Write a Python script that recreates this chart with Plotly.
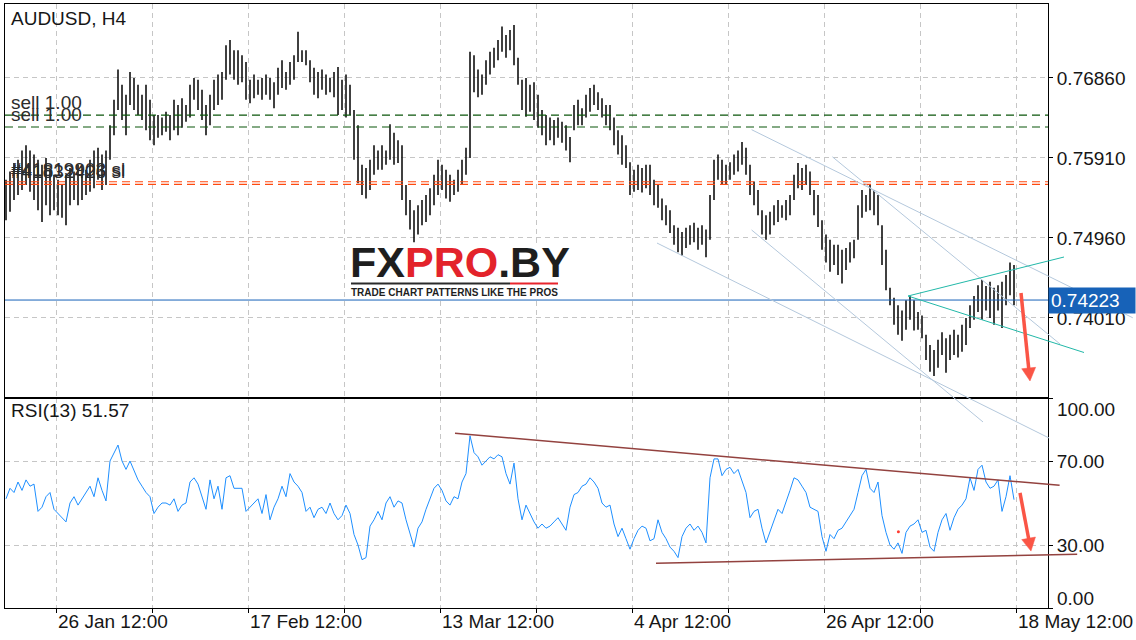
import math
import plotly.graph_objects as go

# ---------------- data ----------------
SYMBOL_TITLE = "AUDUSD, H4"
RSI_TITLE = "RSI(13) 51.57"

# price bars (one bar per 8 hours), highs and lows
high = [
    0.7565, 0.7575, 0.7585, 0.7589, 0.7600, 0.7606, 0.7600, 0.7595, 0.7589, 0.7583,
    0.7591, 0.7577, 0.7571, 0.7565, 0.7559, 0.7571, 0.7579, 0.7575, 0.7583, 0.7571,
    0.7577, 0.7589, 0.7600, 0.7603, 0.7595, 0.7600, 0.7630, 0.7660, 0.7696, 0.7678,
    0.7666, 0.7693, 0.7686, 0.7678, 0.7666, 0.7678, 0.7660, 0.7642, 0.7642, 0.7639,
    0.7646, 0.7642, 0.7660, 0.7654, 0.7662, 0.7654, 0.7678, 0.7686, 0.7684, 0.7672,
    0.7654, 0.7666, 0.7684, 0.7690, 0.7693, 0.7725, 0.7731, 0.7719, 0.7719, 0.7713,
    0.7705, 0.7684, 0.7690, 0.7684, 0.7686, 0.7690, 0.7686, 0.7681, 0.7698, 0.7707,
    0.7693, 0.7705, 0.7713, 0.7741, 0.7719, 0.7719, 0.7707, 0.7698, 0.7693, 0.7696,
    0.7690, 0.7686, 0.7693, 0.7699, 0.7684, 0.7690, 0.7678, 0.7648, 0.7630, 0.7583,
    0.7579, 0.7589, 0.7606, 0.7600, 0.7606, 0.7600, 0.7631, 0.7621, 0.7612, 0.7606,
    0.7559, 0.7541, 0.7529, 0.7535, 0.7541, 0.7547, 0.7555, 0.7571, 0.7589, 0.7583,
    0.7577, 0.7571, 0.7565, 0.7577, 0.7589, 0.7603, 0.7717, 0.7713, 0.7696, 0.7690,
    0.7707, 0.7717, 0.7722, 0.7731, 0.7747, 0.7737, 0.7743, 0.7749, 0.7710, 0.7684,
    0.7686, 0.7678, 0.7681, 0.7666, 0.7648, 0.7642, 0.7639, 0.7636, 0.7639, 0.7634,
    0.7630, 0.7616, 0.7654, 0.7660, 0.7650, 0.7666, 0.7674, 0.7678, 0.7669, 0.7662,
    0.7654, 0.7654, 0.7639, 0.7624, 0.7618, 0.7606, 0.7586, 0.7577, 0.7583, 0.7579,
    0.7583, 0.7583, 0.7565, 0.7559, 0.7543, 0.7535, 0.7529, 0.7511, 0.7508, 0.7503,
    0.7508, 0.7511, 0.7514, 0.7508, 0.7511, 0.7506, 0.7547, 0.7589, 0.7595, 0.7589,
    0.7583, 0.7586, 0.7595, 0.7600, 0.7610, 0.7603, 0.7583, 0.7563, 0.7553, 0.7529,
    0.7523, 0.7527, 0.7535, 0.7541, 0.7535, 0.7541, 0.7547, 0.7571, 0.7585, 0.7579,
    0.7583, 0.7575, 0.7553, 0.7547, 0.7517, 0.7500, 0.7494, 0.7488, 0.7488, 0.7482,
    0.7484, 0.7491, 0.7494, 0.7535, 0.7553, 0.7547, 0.7559, 0.7553, 0.7547, 0.7511,
    0.7482, 0.7437, 0.7425, 0.7416, 0.7410, 0.7422, 0.7427, 0.7422, 0.7408, 0.7404,
    0.7381, 0.7369, 0.7363, 0.7375, 0.7384, 0.7377, 0.7381, 0.7387, 0.7381, 0.7393,
    0.7401, 0.7416, 0.7427, 0.7440, 0.7446, 0.7439, 0.7444, 0.7437, 0.7440, 0.7444,
    0.7452, 0.7467, 0.7464,
]
low = [
    0.7517, 0.7527, 0.7541, 0.7547, 0.7553, 0.7559, 0.7551, 0.7541, 0.7529, 0.7515,
    0.7535, 0.7523, 0.7529, 0.7523, 0.7520, 0.7511, 0.7535, 0.7541, 0.7535, 0.7541,
    0.7547, 0.7551, 0.7555, 0.7565, 0.7553, 0.7559, 0.7589, 0.7618, 0.7648, 0.7636,
    0.7618, 0.7654, 0.7648, 0.7642, 0.7636, 0.7624, 0.7612, 0.7606, 0.7615, 0.7618,
    0.7622, 0.7612, 0.7624, 0.7618, 0.7627, 0.7634, 0.7639, 0.7660, 0.7648, 0.7636,
    0.7618, 0.7630, 0.7648, 0.7654, 0.7660, 0.7684, 0.7690, 0.7684, 0.7678, 0.7681,
    0.7660, 0.7656, 0.7662, 0.7666, 0.7660, 0.7666, 0.7660, 0.7650, 0.7666, 0.7674,
    0.7672, 0.7678, 0.7684, 0.7705, 0.7705, 0.7701, 0.7681, 0.7666, 0.7662, 0.7672,
    0.7666, 0.7669, 0.7663, 0.7642, 0.7648, 0.7639, 0.7642, 0.7589, 0.7561, 0.7547,
    0.7543, 0.7553, 0.7571, 0.7577, 0.7577, 0.7583, 0.7589, 0.7583, 0.7585, 0.7541,
    0.7523, 0.7506, 0.7491, 0.7500, 0.7511, 0.7515, 0.7523, 0.7535, 0.7547, 0.7553,
    0.7543, 0.7539, 0.7547, 0.7551, 0.7559, 0.7571, 0.7591, 0.7669, 0.7663, 0.7666,
    0.7678, 0.7690, 0.7698, 0.7707, 0.7717, 0.7710, 0.7719, 0.7701, 0.7678, 0.7648,
    0.7640, 0.7646, 0.7636, 0.7627, 0.7618, 0.7606, 0.7612, 0.7606, 0.7615, 0.7609,
    0.7600, 0.7586, 0.7624, 0.7630, 0.7630, 0.7639, 0.7646, 0.7654, 0.7648, 0.7639,
    0.7630, 0.7624, 0.7606, 0.7595, 0.7583, 0.7579, 0.7547, 0.7551, 0.7553, 0.7550,
    0.7555, 0.7547, 0.7535, 0.7532, 0.7517, 0.7511, 0.7502, 0.7488, 0.7479, 0.7475,
    0.7484, 0.7488, 0.7491, 0.7482, 0.7488, 0.7473, 0.7494, 0.7541, 0.7565, 0.7559,
    0.7559, 0.7565, 0.7571, 0.7575, 0.7583, 0.7571, 0.7547, 0.7535, 0.7523, 0.7500,
    0.7494, 0.7500, 0.7511, 0.7515, 0.7520, 0.7517, 0.7523, 0.7541, 0.7555, 0.7553,
    0.7559, 0.7547, 0.7523, 0.7509, 0.7482, 0.7467, 0.7456, 0.7464, 0.7452, 0.7442,
    0.7458, 0.7467, 0.7472, 0.7494, 0.7520, 0.7527, 0.7529, 0.7523, 0.7511, 0.7464,
    0.7434, 0.7416, 0.7393, 0.7381, 0.7374, 0.7387, 0.7399, 0.7386, 0.7387, 0.7377,
    0.7351, 0.7337, 0.7332, 0.7342, 0.7357, 0.7336, 0.7351, 0.7357, 0.7354, 0.7361,
    0.7369, 0.7389, 0.7399, 0.7408, 0.7399, 0.7410, 0.7401, 0.7393, 0.7410, 0.7389,
    0.7416, 0.7428, 0.7416,
]
rsi = [
    52, 57, 55, 60, 56, 61, 58, 59, 46, 48,
    53, 55, 47, 45, 43, 41, 50, 53, 49, 52,
    55, 58, 53, 62, 56, 51, 70, 74, 77.6, 70,
    66, 70, 65, 61, 58, 55, 53, 45, 48, 50,
    50, 49, 52, 46, 49, 50, 60, 62, 59, 53,
    47, 61, 52, 58, 47, 62, 63, 57, 57, 57,
    46, 48, 50, 52, 45, 54, 42, 48, 52, 58,
    53, 64, 60, 58, 55, 46, 48, 43, 47, 48,
    45, 50, 45, 42, 44, 49, 45, 35, 30, 23,
    24, 39, 42, 46, 42, 50, 53, 48, 51, 50,
    42, 35, 29, 38, 41, 47, 52, 57, 59, 56,
    51, 49, 53, 52, 60, 64, 82, 74, 72, 68,
    70, 72, 71, 73, 72, 64, 59, 69, 52, 42,
    49, 45, 41, 38, 40, 38, 39, 41, 43, 40,
    37, 48, 54, 55, 58, 59, 62, 60, 57, 50,
    48, 49, 40, 34, 38, 33, 28, 33, 37, 39,
    38, 32, 33, 42, 36, 33, 29, 27, 24, 34,
    38, 40, 37, 39, 36, 31, 62, 71, 71, 63,
    66, 67, 64, 66, 60, 55, 43, 46, 47, 38,
    31, 36, 42, 47, 45, 50, 56, 62, 61, 58,
    55, 48, 47, 46, 34, 27, 35, 33, 37, 38,
    41, 44, 47, 55, 63, 66, 57, 55, 60, 44,
    36, 30, 28, 31, 26, 36, 39, 40, 42, 36,
    37, 29, 27, 36, 42, 45, 37, 43, 47, 49,
    52, 62, 56, 66, 68, 60, 57, 58, 61, 46,
    53, 63, 51.57,
]

LAST_PRICE = 0.74223
PRICE_TICKS = [0.76860, 0.75910, 0.74960, 0.74010]
RSI_TICKS = [0, 30, 70, 100]
RSI_TICK_TEXT = ["", "30.00", "70.00", ""]
GRID_BARS = [12.5 + 24 * j for j in range(11)]
DATE_LABELS = ["26 Jan 12:00", "17 Feb 12:00", "13 Mar 12:00",
               "4 Apr 12:00", "26 Apr 12:00", "18 May 12:00"]

SELL_LEVELS = [0.76420, 0.76278]
SELL_TEXT = ["sell 1.00", "sell 1.00"]
SL_LEVELS = [0.75628, 0.75597]
SL_TEXT = ["#41819903 sl", "#41832426 sl"]

# drawn objects (bar index, value)
CHANNEL_LINES = [
    (186.4, 0.76246, 281.7, 0.74012),
    (206.6, 0.75924, 263.5, 0.73701),
    (186.4, 0.75055, 244.25, 0.72775),
    (162.75, 0.74900, 260.75, 0.72585),
]
WEDGE_LINES = [
    (225.5, 0.74271, 264.5, 0.74734),
    (225.5, 0.74271, 269.5, 0.73600),
]
RSI_LINES = [
    (112.25, 83.2, 263.4, 58.4),
    (162.5, 21.3, 267.8, 25.6),
]
PRICE_ARROW = (253.75, 0.74307, 256.0, 0.73262)
RSI_ARROW = (253.5, 54.8, 256.25, 27.1)
RSI_DOT = (223.1, 36.3)

# ---------------- layout geometry ----------------
W, H = 1136, 640
ML, MR, MT, MB = 5, 88, 4, 32
PW, PH = W - ML - MR, H - MT - MB
XR = [-0.25, 260.5]
YR_MAIN = [0.7305975, 0.777385]
YR_RSI = [0, 100]
RSI_FRAC = 210 / PH
DOM_RSI = [0, RSI_FRAC]
DOM_MAIN = [RSI_FRAC, 1]

FONT = "Liberation Sans, Arial, sans-serif"
GRID = "#c6c6c6"
TXT = "#161616"
BLUE = "#1762b8"
STEEL = "#b4c8dc"
TEAL = "#22b8a8"
MAROON = "#93423f"
ARROW_RED = "#fa5546"


def bx(b):
    return (b - XR[0]) / (XR[1] - XR[0])


def py_main(p):
    return DOM_MAIN[0] + (p - YR_MAIN[0]) / (YR_MAIN[1] - YR_MAIN[0]) * (DOM_MAIN[1] - DOM_MAIN[0])


def py_rsi(v):
    return DOM_RSI[0] + (v - YR_RSI[0]) / (YR_RSI[1] - YR_RSI[0]) * (DOM_RSI[1] - DOM_RSI[0])


def pxX(X):
    return (X - ML) / PW


def pxY(Y):
    return (H - MB - Y) / PH


def to_px(xp, yp):
    return ML + xp * PW, H - MB - yp * PH


fig = go.Figure()

# OHLC-style bars as vertical segments
bx_list, by_list = [], []
for i, (h, l) in enumerate(zip(high, low)):
    bx_list += [i, i, None]
    by_list += [l, h, None]
fig.add_trace(go.Scatter(x=bx_list, y=by_list, mode="lines",
                         line=dict(color="#000000", width=1.5),
                         xaxis="x2", yaxis="y", hoverinfo="skip", showlegend=False))

# RSI line
fig.add_trace(go.Scatter(x=list(range(len(rsi))), y=rsi, mode="lines",
                         line=dict(color="#1e8fff", width=1),
                         xaxis="x", yaxis="y2", hoverinfo="skip", showlegend=False))
fig.add_trace(go.Scatter(x=[RSI_DOT[0]], y=[RSI_DOT[1]], mode="markers",
                         marker=dict(color="#ff3b30", size=3),
                         xaxis="x", yaxis="y2", hoverinfo="skip", showlegend=False))

shapes = []
# order / level lines
shapes.append(dict(type="line", xref="paper", yref="y", x0=0, x1=1, y0=LAST_PRICE, y1=LAST_PRICE,
                   line=dict(color=BLUE, width=1)))
for lv in SELL_LEVELS:
    shapes.append(dict(type="line", xref="paper", yref="y", x0=0, x1=1, y0=lv, y1=lv,
                       line=dict(color="#0b560b", width=1.2, dash="8px,5px")))
for lv in SL_LEVELS:
    shapes.append(dict(type="line", xref="paper", yref="y", x0=0, x1=1, y0=lv, y1=lv,
                       line=dict(color="#ff4a10", width=1.1, dash="8px,5px")))

# trend lines (paper refs so they may run past the panel like the original)
for b0, p0, b1, p1 in CHANNEL_LINES:
    shapes.append(dict(type="line", xref="paper", yref="paper", layer="above",
                       x0=bx(b0), y0=py_main(p0), x1=bx(b1), y1=py_main(p1),
                       line=dict(color=STEEL, width=1)))
for b0, p0, b1, p1 in WEDGE_LINES:
    shapes.append(dict(type="line", xref="paper", yref="paper", layer="above",
                       x0=bx(b0), y0=py_main(p0), x1=bx(b1), y1=py_main(p1),
                       line=dict(color=TEAL, width=1)))
for b0, v0, b1, v1 in RSI_LINES:
    shapes.append(dict(type="line", xref="paper", yref="paper", layer="above",
                       x0=bx(b0), y0=py_rsi(v0), x1=bx(b1), y1=py_rsi(v1),
                       line=dict(color=MAROON, width=1.5)))


def arrow_shapes(tail, tip, color):
    X0, Y0 = to_px(*tail)
    X1, Y1 = to_px(*tip)
    dx, dy = X1 - X0, Y1 - Y0
    L = math.hypot(dx, dy)
    ux, uy = dx / L, dy / L
    head_len, half = 13, 7
    bX, bY = X1 - ux * head_len, Y1 - uy * head_len
    nx, ny = -uy, ux
    pts = [(X1, Y1), (bX + nx * half, bY + ny * half), (bX - nx * half, bY - ny * half)]
    pp = [(pxX(a), pxY(b)) for a, b in pts]
    path = "M {:.5f} {:.5f} L {:.5f} {:.5f} L {:.5f} {:.5f} Z".format(
        pp[0][0], pp[0][1], pp[1][0], pp[1][1], pp[2][0], pp[2][1])
    return [
        dict(type="line", xref="paper", yref="paper", layer="above",
             x0=pxX(X0), y0=pxY(Y0), x1=pxX(bX + ux * 2), y1=pxY(bY + uy * 2),
             line=dict(color=color, width=3.5)),
        dict(type="path", xref="paper", yref="paper", layer="above", path=path,
             fillcolor=color, line=dict(color=color, width=0.5)),
    ]


shapes += arrow_shapes((bx(PRICE_ARROW[0]), py_main(PRICE_ARROW[1])),
                       (bx(PRICE_ARROW[2]), py_main(PRICE_ARROW[3])), ARROW_RED)
shapes += arrow_shapes((bx(RSI_ARROW[0]), py_rsi(RSI_ARROW[1])),
                       (bx(RSI_ARROW[2]), py_rsi(RSI_ARROW[3])), ARROW_RED)

# logo background + underline
shapes.append(dict(type="rect", xref="paper", yref="paper", layer="above",
                   x0=pxX(348), x1=pxX(571), y0=pxY(298), y1=pxY(245),
                   fillcolor="white", line=dict(width=0)))
shapes.append(dict(type="line", xref="paper", yref="paper", layer="above",
                   x0=pxX(351), x1=pxX(510), y0=pxY(283.5), y1=pxY(283.5),
                   line=dict(color="#2a2a2a", width=2)))
shapes.append(dict(type="line", xref="paper", yref="paper", layer="above",
                   x0=pxX(510), x1=pxX(558), y0=pxY(283.5), y1=pxY(283.5),
                   line=dict(color="#e8242c", width=2)))

ann = []
ann.append(dict(text=SYMBOL_TITLE, xref="paper", yref="paper", x=pxX(9), y=pxY(19),
                xanchor="left", yanchor="middle", showarrow=False,
                font=dict(size=19, color=TXT)))
ann.append(dict(text=RSI_TITLE, xref="paper", yref="paper", x=pxX(9), y=pxY(410),
                xanchor="left", yanchor="middle", showarrow=False,
                font=dict(size=19, color=TXT)))
for lv, t in zip(SELL_LEVELS, SELL_TEXT):
    ann.append(dict(text=t, xref="paper", yref="y", x=pxX(9), y=lv, xanchor="left",
                    yanchor="bottom", showarrow=False, font=dict(size=19, color="#2c2c2c")))
for lv, t in zip(SL_LEVELS, SL_TEXT):
    ann.append(dict(text=t, xref="paper", yref="y", x=pxX(9), y=lv, xanchor="left",
                    yanchor="bottom", showarrow=False, font=dict(size=19, color="#2c2c2c")))
ann.append(dict(text=f"{LAST_PRICE:.5f}", xref="paper", yref="y", x=1.0, y=LAST_PRICE,
                xanchor="left", yanchor="middle", showarrow=False, align="left",
                bgcolor=BLUE, borderpad=2, width=82, font=dict(size=19, color="white")))
ann.append(dict(text="100.00", xref="paper", yref="paper", x=pxX(1055), y=pxY(409),
                xanchor="left", yanchor="middle", showarrow=False, font=dict(size=19, color=TXT)))
ann.append(dict(text="0.00", xref="paper", yref="paper", x=pxX(1055), y=pxY(598),
                xanchor="left", yanchor="middle", showarrow=False, font=dict(size=19, color=TXT)))
for j, lab in enumerate(DATE_LABELS):
    ann.append(dict(text=lab, xref="x", yref="paper", x=GRID_BARS[2 * j], y=0,
                    xanchor="left", yanchor="top", yshift=-1, showarrow=False,
                    font=dict(size=19, color=TXT)))
# logo text
ann.append(dict(text="<b>FX<span style='color:#e3232b'>PRO</span>.BY</b>",
                xref="paper", yref="paper", x=pxX(460), y=pxY(262),
                xanchor="center", yanchor="middle", showarrow=False,
                font=dict(size=43, color="#1e1e1e", family="Liberation Sans, Arial")))
ann.append(dict(text="<b>TRADE CHART PATTERNS LIKE THE PROS</b>",
                xref="paper", yref="paper", x=pxX(454), y=pxY(292.5),
                xanchor="center", yanchor="middle", showarrow=False,
                font=dict(size=10, color="#1e1e1e", family="Liberation Sans, Arial")))

common_axis = dict(showline=True, linecolor="#000000", linewidth=1, mirror=True,
                   zeroline=False, gridcolor=GRID, griddash="5px,4px", gridwidth=1)

fig.update_layout(
    width=W, height=H,
    margin=dict(l=ML, r=MR, t=MT, b=MB, pad=0),
    paper_bgcolor="white", plot_bgcolor="white",
    font=dict(family=FONT, size=19, color=TXT),
    showlegend=False, hovermode=False,
    xaxis=dict(domain=[0, 1], anchor="y2", range=XR, tickvals=GRID_BARS,
               showticklabels=False, ticks="outside", ticklen=4, tickcolor="#000000",
               showgrid=True, **common_axis),
    xaxis2=dict(domain=[0, 1], anchor="y", range=XR, matches="x", tickvals=GRID_BARS,
                showticklabels=False, ticks="", showgrid=True, **common_axis),
    yaxis=dict(domain=DOM_MAIN, anchor="x2", side="right", range=YR_MAIN,
               tickvals=PRICE_TICKS, ticktext=[f"{v:.5f}" for v in PRICE_TICKS],
               ticks="outside", ticklen=4, tickcolor="#000000", showgrid=True,
               tickfont=dict(size=19, color=TXT), **common_axis),
    yaxis2=dict(domain=DOM_RSI, anchor="x", side="right", range=YR_RSI,
                tickvals=RSI_TICKS, ticktext=RSI_TICK_TEXT,
                ticks="outside", ticklen=4, tickcolor="#000000", showgrid=True,
                tickfont=dict(size=19, color=TXT), **common_axis),
    shapes=shapes,
    annotations=ann,
)

fig.write_html("out.html", config={"displayModeBar": False},
               post_script="document.body.style.margin='0';document.body.style.overflow='hidden';")
